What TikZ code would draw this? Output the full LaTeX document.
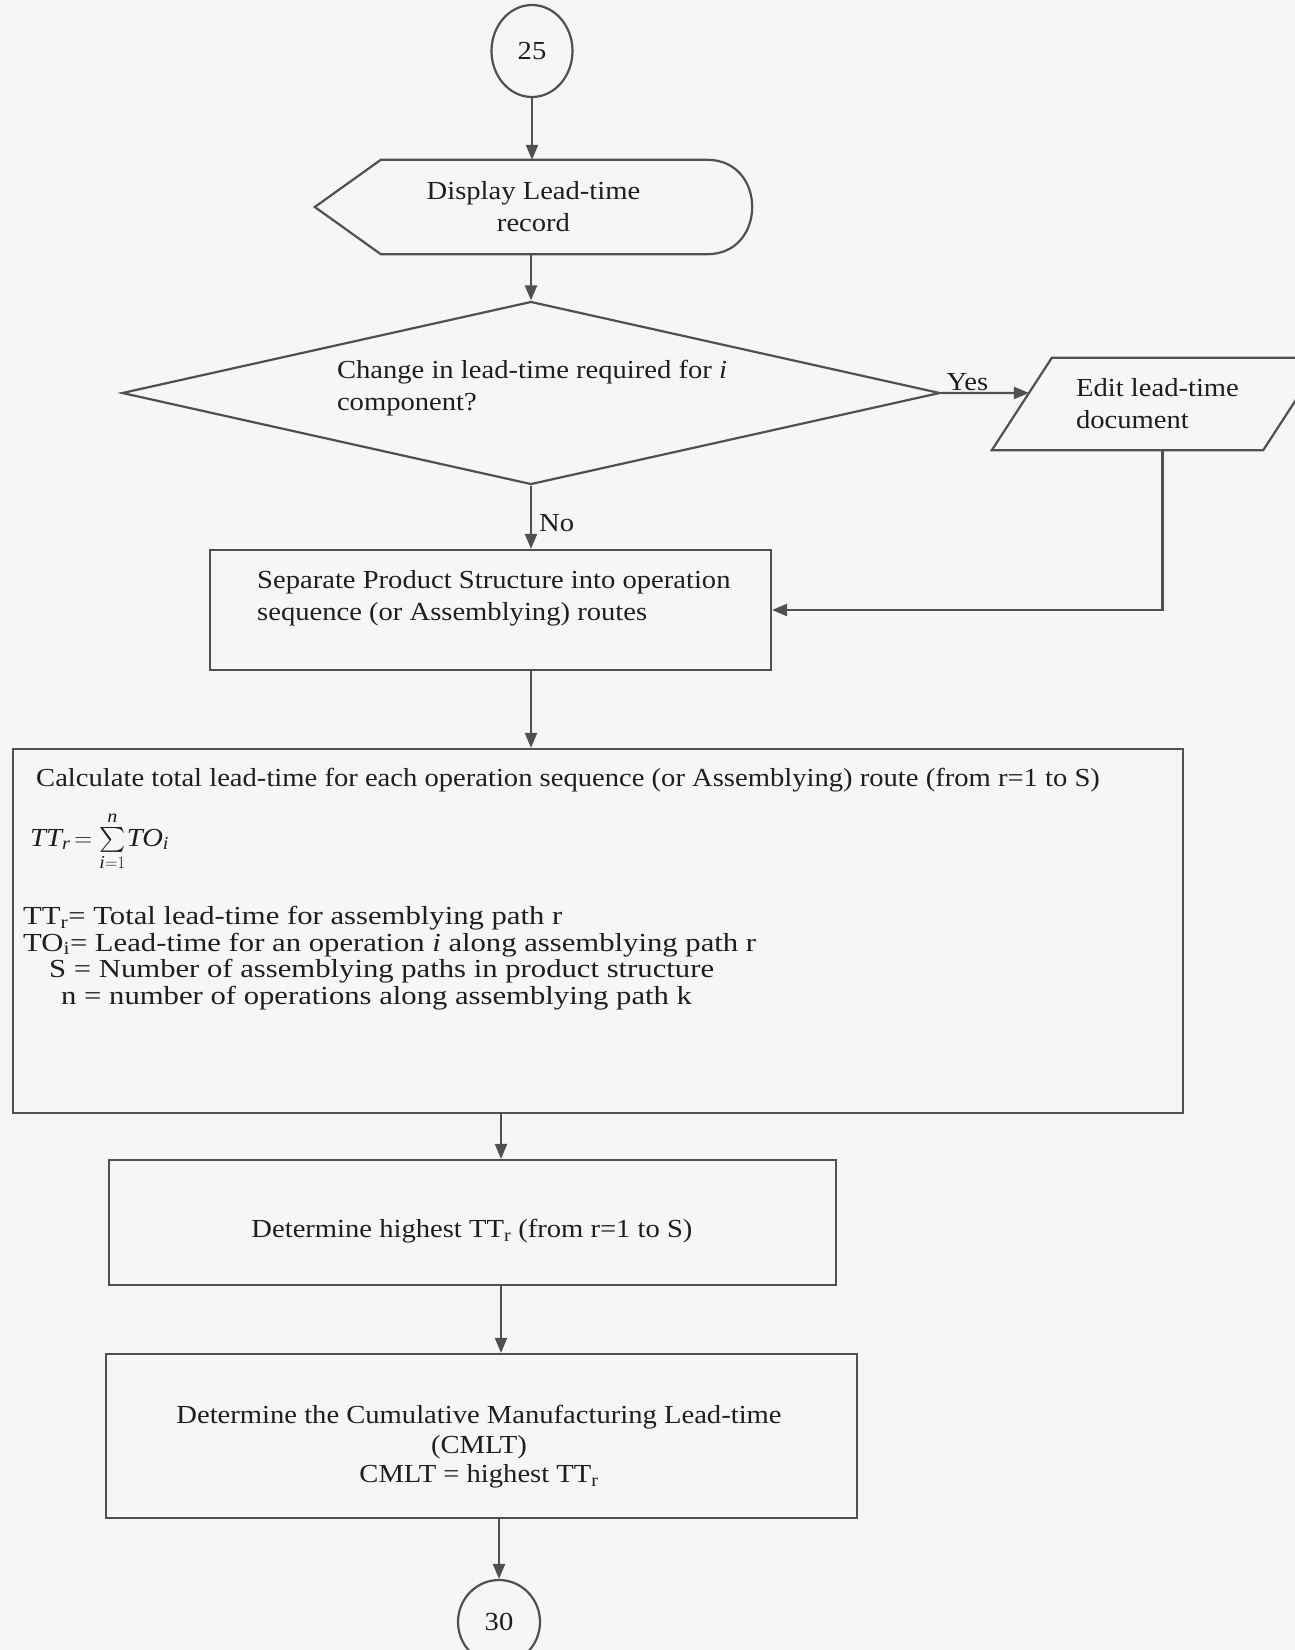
\documentclass[tikz,border=0pt]{standalone}
\usepackage{amsmath}
\usepackage{fontspec}
\setmainfont{Liberation Serif}[FakeStretch=1.1]
\newfontfamily\widefont{Liberation Serif}[FakeStretch=1.18]
\usetikzlibrary{shapes.geometric,arrows.meta,calc}
\definecolor{paper}{HTML}{F6F6F4}
\definecolor{ink}{HTML}{505050}
\definecolor{txt}{HTML}{1E1E1E}
\begin{document}
\begin{tikzpicture}[x=1pt,y=-1pt,
  line/.style={draw=ink, line width=2.2pt},
  arr/.style={line, -{Triangle[length=15pt,width=12pt]}},
  box/.style={line, rectangle, inner sep=0pt},
  conn/.style={line, ellipse, inner sep=0pt},
  lbl/.style={inner sep=0pt, align=left},
  every node/.style={text=txt, font=\fontsize{26}{32}\selectfont},
]
\fill[paper] (0,0) rectangle (1295,1650);
\useasboundingbox (0,0) rectangle (1295,1650);

% off-page connector from page 25
\node[conn, minimum width=81pt, minimum height=92pt] (c25) at (532,51) {25};

% display symbol
\node[inner sep=0pt, minimum width=437pt, minimum height=94pt, align=center] (disp) at (533.5,207) {Display Lead-time\\record};
\draw[line] (disp.west) -- ([xshift=66pt]disp.north west) -- ([xshift=-45pt]disp.north east)
  .. controls ([xshift=15pt]disp.north east) and ([xshift=15pt]disp.south east) .. ([xshift=-45pt]disp.south east)
  -- ([xshift=66pt]disp.south west) -- cycle;

% decision
\node[line, diamond, aspect=4.47, minimum width=818pt, minimum height=183pt, inner sep=0pt] (dec) at (531,393) {};
\node[lbl] (dectxt) at (532,388) {Change in lead-time required for \textit{i}\\component?};

% manual input: edit document
\node[inner sep=0pt, minimum width=331pt, minimum height=92pt, align=left] (edit) at (1157.5,404) {Edit lead-time\\document};
\draw[line] (edit.south west) -- ([xshift=60pt]edit.north west) -- (edit.north east) -- ([xshift=-60pt]edit.south east) -- cycle;
\coordinate (editfoot) at ([xshift=5pt]edit.south);

% process boxes
\node[box, minimum width=561pt, minimum height=120pt] (sep) at (490.5,610) {};
\node[lbl, anchor=north west] (septxt) at (257,570) {Separate Product Structure into operation\\sequence (or Assemblying) routes};

\node[box, minimum width=1170pt, minimum height=364pt] (calc) at (598,931) {};
\node[lbl, anchor=north west] (calctxt) at (36,768) {Calculate total lead-time for each operation sequence (or Assemblying) route (from r=1 to S)};
\node[lbl, anchor=base west] (formula) at (30,846)
  {$\textit{TT}_{\text{\itshape r}}\mkern3mu{=}\mkern2mu\sum\limits_{\text{\itshape i}=1}^{\text{\itshape n}}\mkern-2mu\textit{TO}_{\text{\itshape i}}$};
\node[lbl, anchor=north west, font=\widefont\fontsize{26}{26.5}\selectfont] (defs) at (23,906)
  {TT\textsubscript{r}= Total lead-time for assemblying path r\\
   TO\textsubscript{i}= Lead-time for an operation \textit{i} along assemblying path r\\
   \hspace*{26pt}S = Number of assemblying paths in product structure\\
   \hspace*{38pt}n = number of operations along assemblying path k};

\node[box, minimum width=727pt, minimum height=125pt] (det) at (472.5,1222.5) {};
\node[inner sep=0pt] (dettxt) at (472,1231) {Determine highest TT\textsubscript{r} (from r=1 to S)};

\node[box, minimum width=751pt, minimum height=164pt] (cmlt) at (481.5,1436) {};
\node[inner sep=0pt, align=center, font=\fontsize{26}{29.5}\selectfont] (cmlttxt) at (479,1447)
  {Determine the Cumulative Manufacturing Lead-time\\(CMLT)\\CMLT = highest TT\textsubscript{r}};

% off-page connector to page 30
\node[conn, minimum width=82pt, minimum height=84pt] (c30) at (499,1622) {30};

% flow
\coordinate (lower) at (501,0);
\draw[arr] (c25.south) -- (c25.south |- disp.north);
\draw[arr] (disp.south -| dec.north) -- (dec.north);
\draw[arr] (dec.south) -- (dec.south |- sep.north) node[pos=0.6, right=7pt, inner sep=0pt] {No};
\draw[arr] (dec.east) -- ($(edit.south west)!{57/92}!([xshift=60pt]edit.north west)$)
  node[pos=0.3, above=1pt, inner sep=0pt] {Yes};
\draw[arr] (editfoot) |- (sep.east);
\draw[arr] (sep.south -| dec.south) -- (calc.north -| dec.south);
\draw[arr] (calc.south -| lower) -- (det.north -| lower);
\draw[arr] (det.south -| lower) -- (cmlt.north -| lower);
\draw[arr] (cmlt.south -| c30.north) -- (c30.north);
\end{tikzpicture}
\end{document}
